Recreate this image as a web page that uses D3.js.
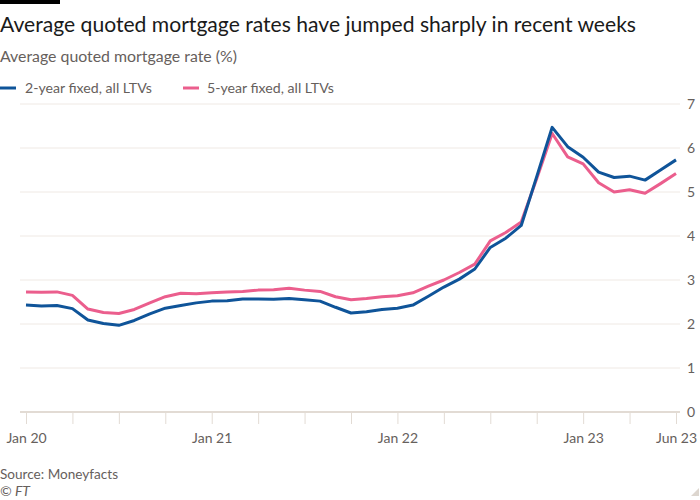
<!DOCTYPE html>
<html>
<head>
<meta charset="utf-8">
<script src="https://cdn.jsdelivr.net/npm/d3@7"></script>
<style>
  html, body { margin: 0; padding: 0; background: #fff; }
  svg { display: block; font-family: Lato, "Open Sans", sans-serif; }
</style>
</head>
<body>
<svg id="chart" width="700" height="500"></svg>
<script>
// ---- Data (Moneyfacts average quoted mortgage rates, %) ----
const periods = [
  "Jan 2020","Feb 2020","Mar 2020","Apr 2020","May 2020","Jun 2020","Jul 2020","Aug 2020","Sep 2020","Oct 2020","Nov 2020","Dec 2020",
  "Jan 2021","Feb 2021","Mar 2021","Apr 2021","May 2021","Jun 2021","Jul 2021","Aug 2021","Sep 2021","Oct 2021","Nov 2021","Dec 2021",
  "Jan 2022","Feb 2022","Mar 2022","Apr 2022","May 2022","Jun 2022","Jul 2022","Aug 2022","Sep 2022","Oct 2022","Nov 2022","Dec 2022",
  "Jan 2023","Feb 2023","Mar 2023","Apr 2023","May 2023","Jun 2023","Jun 2023 (latest)"
];
const twoYearFixed = [
  2.43,2.41,2.42,2.35,2.09,2.01,1.97,2.08,2.23,2.36,2.42,2.48,
  2.52,2.53,2.57,2.57,2.56,2.58,2.55,2.52,2.38,2.25,2.28,2.33,
  2.36,2.43,2.63,2.84,3.02,3.25,3.74,3.95,4.24,5.35,6.47,6.03,
  5.79,5.45,5.33,5.36,5.27,5.50,5.73
];
const fiveYearFixed = [
  2.73,2.72,2.73,2.65,2.34,2.26,2.24,2.33,2.48,2.62,2.70,2.69,
  2.71,2.73,2.74,2.77,2.78,2.81,2.77,2.74,2.62,2.55,2.58,2.62,
  2.64,2.71,2.86,3.00,3.17,3.36,3.89,4.08,4.32,5.30,6.33,5.80,
  5.64,5.21,5.00,5.05,4.97,5.19,5.42
];
const seriesNames = ["2-year fixed, all LTVs", "5-year fixed, all LTVs"];
const xTickIndex = [0,3,6,9,12,15,18,21,24,27,30,33,36,39,42];
const xTickLabels = {0:"Jan 20", 12:"Jan 21", 24:"Jan 22", 36:"Jan 23", 42:"Jun 23"};
const yTicks = [0,1,2,3,4,5,6,7];

const titleText = "Average quoted mortgage rates have jumped sharply in recent weeks";
const subtitleText = "Average quoted mortgage rate (%)";
const sourceText = "Source: Moneyfacts";
const creditText = "\u00A9 FT";

// ---- Styles ----
const blue = "#0f5499", pink = "#eb5e8d";
const grey = "#66605c", grid = "#efe9e4", axisCol = "#e2dbd4";

const svg = d3.select("#chart");

function fit(sel, target) {
  const w = sel.node().getComputedTextLength();
  const fs = parseFloat(sel.attr("font-size"));
  sel.attr("font-size", (fs * target / w).toFixed(2));
}

// top bar
svg.append("rect").attr("x", 0).attr("y", 0).attr("width", 60).attr("height", 4).attr("fill", "#000");

// title
const title = svg.append("text").attr("x", 0).attr("y", 32).attr("font-size", 21)
  .attr("fill", "#1a1a1a").text(titleText);
fit(title, 636);

const sub = svg.append("text").attr("x", 0).attr("y", 62).attr("font-size", 16)
  .attr("fill", grey).text(subtitleText);
fit(sub, 237);

// legend
const leg = svg.append("g");
const legItems = [
  {name: seriesNames[0], color: blue, x: 0, tx: 25, w: 127},
  {name: seriesNames[1], color: pink, x: 183, tx: 207, w: 127}
];
legItems.forEach(d => {
  leg.append("line").attr("x1", d.x).attr("x2", d.x + 16).attr("y1", 88).attr("y2", 88)
    .attr("stroke", d.color).attr("stroke-width", 3);
  const t = leg.append("text").attr("x", d.tx).attr("y", 93).attr("font-size", 14)
    .attr("fill", grey).text(d.name);
  fit(t, d.w);
});

// scales
const x = d3.scaleLinear().domain([0, periods.length - 1]).range([26, 676]);
const y = d3.scaleLinear().domain([0, 7]).range([412, 104]);

// gridlines
svg.append("g").selectAll("line").data(yTicks.filter(v => v > 0)).join("line")
  .attr("x1", 20).attr("x2", 680)
  .attr("y1", d => y(d)).attr("y2", d => y(d))
  .attr("stroke", grid).attr("stroke-width", 1);

// y labels
svg.append("g").selectAll("text").data(yTicks).join("text")
  .attr("x", 687).attr("y", d => y(d)).attr("dy", "0.35em")
  .attr("font-size", 14).attr("fill", grey).text(d => d);

// x axis
const xAxis = d3.axisBottom(x).tickValues(xTickIndex)
  .tickSize(12).tickPadding(6)
  .tickFormat(i => xTickLabels[i] || "");
const gx = svg.append("g").attr("transform", `translate(0,${y(0)})`).call(xAxis);
gx.select(".domain").remove();
gx.selectAll(".tick line").attr("stroke", axisCol).attr("stroke-width", 1);
gx.selectAll(".tick text").attr("font-size", 14).attr("fill", grey)
  .attr("font-family", "Lato, 'Open Sans', sans-serif").attr("dy", "0.9em");
svg.append("line").attr("x1", 20).attr("x2", 680).attr("y1", y(0)).attr("y2", y(0))
  .attr("stroke", axisCol).attr("stroke-width", 2);

// lines
const line = d3.line().x((d, i) => x(i)).y(d => y(d));
svg.append("path").datum(fiveYearFixed).attr("d", line)
  .attr("fill", "none").attr("stroke", pink).attr("stroke-width", 3)
  .attr("stroke-linejoin", "round");
svg.append("path").datum(twoYearFixed).attr("d", line)
  .attr("fill", "none").attr("stroke", blue).attr("stroke-width", 3)
  .attr("stroke-linejoin", "round");

// source
const src = svg.append("text").attr("x", 0).attr("y", 479).attr("font-size", 14)
  .attr("fill", grey).text(sourceText);
fit(src, 118);
svg.append("text").attr("x", 0).attr("y", 496).attr("font-size", 14)
  .attr("font-style", "italic").attr("fill", grey).text(creditText);

// corner mark
svg.append("path").attr("d", "M699,488 L699,496 L691,496 Z").attr("fill", "#ddd6cf");
</script>
</body>
</html>
